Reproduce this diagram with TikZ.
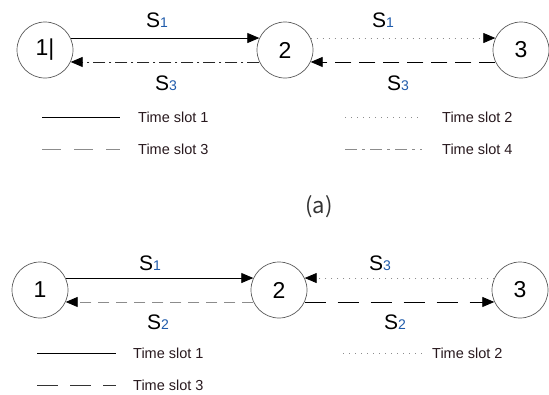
\documentclass[tikz,border=0pt]{standalone}
\usepackage{fontspec}
\setmainfont{Liberation Sans}
\newfontfamily\capfont{Noto Sans CJK KR}
\usetikzlibrary{arrows.meta}
\definecolor{subblue}{RGB}{30,90,170}
\definecolor{circgray}{RGB}{90,90,90}
\definecolor{lgray}{RGB}{140,140,140}
\definecolor{txtdark}{RGB}{40,25,30}
\tikzset{
  stnode/.style={circle,draw=circgray,line width=0.7pt,minimum size=56pt,inner sep=0pt,font=\fontsize{23}{23}\selectfont},
  slab/.style={inner sep=0pt,font=\fontsize{21}{21}\selectfont},
  leg/.style={anchor=west,inner sep=0pt,text=txtdark,font=\fontsize{14.5}{14.5}\selectfont},
  arr/.style={line width=0.8pt,-{Triangle[length=12pt,width=10pt,color=black,fill=black]}},
  lline/.style={line width=0.8pt},
  dotl/.style={line width=0.7pt,lgray,dash pattern=on 1pt off 5pt},
}
\newcommand{\Slab}[1]{S{\fontsize{14}{14}\selectfont\color{subblue}#1}}
\begin{document}
\begin{tikzpicture}[x=1pt,y=-1pt]
\useasboundingbox (0,0) rectangle (549,394);
% ---------- (a) ----------
\node[stnode] (a1) at (45,50) {1|};
\node[stnode] (a2) at (285,50) {2};
\node[stnode] (a3) at (521,50) {3};
\draw[arr] (a1.25) -- (a2.155);
\draw[arr,dash pattern=on 12pt off 4pt on 2pt off 4pt,black!85] (a2.205) -- (a1.335);
\draw[arr,dotl] (a2.25) -- (a3.155);
\draw[arr,dash pattern=on 16pt off 8pt] (a3.205) -- (a2.335);
\node[slab] (la1) at (157,20) {\Slab{1}};
\node[slab] (la2) at (166,83) {\Slab{3}};
\node[slab] (la3) at (383,20) {\Slab{1}};
\node[slab] (la4) at (398,83) {\Slab{3}};
% legend (a)
\coordinate (ka1) at (42,117); \coordinate (kb1) at (120,117);
\coordinate (ka2) at (42,149); \coordinate (kb2) at (120,149);
\coordinate (ka3) at (345,117); \coordinate (kb3) at (422,117);
\coordinate (ka4) at (345,149); \coordinate (kb4) at (422,149);
\draw[lline] (ka1) -- (kb1);
\draw[lline,lgray,dash pattern=on 19pt off 13pt] (ka2) -- (kb2);
\draw[dotl] (ka3) -- (kb3);
\draw[lline,lgray,dash pattern=on 12pt off 5pt on 3pt off 5pt] (ka4) -- (kb4);
\node[leg] (ta1) at (138,117) {Time slot 1};
\node[leg] (ta2) at (138,149) {Time slot 3};
\node[leg] (ta3) at (442,117) {Time slot 2};
\node[leg] (ta4) at (442,149) {Time slot 4};
\node[inner sep=0pt,font=\capfont\fontsize{22}{22}\selectfont,text=black!80] (cap) at (319,207) {(a)};
% ---------- (b) ----------
\node[stnode] (b1) at (40,290) {1};
\node[stnode] (b2) at (279,290) {2};
\node[stnode] (b3) at (520,290) {3};
\draw[arr] (b1.25) -- (b2.155);
\draw[arr,lgray,dash pattern=on 11pt off 7pt] (b2.205) -- (b1.335);
\draw[arr,dotl] (b3.155) -- (b2.25);
\draw[arr,dash pattern=on 21pt off 12pt] (b2.335) -- (b3.205);
\node[slab] (lb1) at (150,263) {\Slab{1}};
\node[slab] (lb2) at (158,322) {\Slab{2}};
\node[slab] (lb3) at (380,263) {\Slab{3}};
\node[slab] (lb4) at (395,322) {\Slab{2}};
% legend (b)
\coordinate (kc1) at (37,353); \coordinate (kd1) at (116,353);
\coordinate (kc2) at (37,385); \coordinate (kd2) at (116,385);
\coordinate (kc3) at (343,353); \coordinate (kd3) at (422,353);
\draw[lline] (kc1) -- (kd1);
\draw[lline,black!80,dash pattern=on 21pt off 12pt] (kc2) -- (kd2);
\draw[dotl] (kc3) -- (kd3);
\node[leg] (tb1) at (133,353) {Time slot 1};
\node[leg] (tb2) at (133,385) {Time slot 3};
\node[leg] (tb3) at (432,353) {Time slot 2};
\end{tikzpicture}
\end{document}
